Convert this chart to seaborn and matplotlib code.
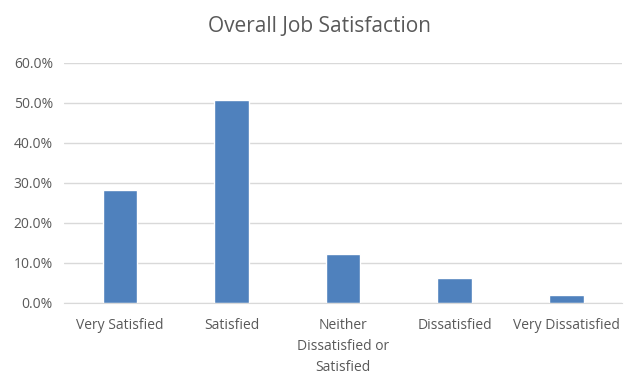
import matplotlib
matplotlib.use('Agg')
import matplotlib.pyplot as plt
import seaborn as sns
import pandas as pd
from matplotlib.ticker import PercentFormatter

# Chart data
categories = ['Very Satisfied', 'Satisfied', 'Neither\nDissatisfied or\nSatisfied',
              'Dissatisfied', 'Very Dissatisfied']
shares = [28.1, 50.8, 12.2, 6.3, 2.1]

df = pd.DataFrame({'Category': categories, 'Share': shares})

sns.set_style('white')
plt.rcParams['font.family'] = ['Open Sans', 'DejaVu Sans']

fig = plt.figure(figsize=(6.4, 3.83), dpi=100)
ax = fig.add_axes([0.100, 0.209, 0.872, 0.627])

sns.barplot(data=df, x='Category', y='Share', color='#4F81BD', saturation=1,
            width=0.31, ax=ax)

ax.set_ylim(0, 60)
ax.set_yticks(range(0, 61, 10))
ax.yaxis.set_major_formatter(PercentFormatter(decimals=1))
ax.yaxis.grid(True, color='#D9D9D9', linewidth=1)
ax.set_axisbelow(True)
ax.set_xlim(-0.5, 4.5)
for side in ['top', 'right', 'left']:
    ax.spines[side].set_visible(False)
ax.spines['bottom'].set_color('#D9D9D9')
ax.tick_params(axis='both', length=0, labelsize=10, colors='#595959', pad=8)
for lbl in ax.get_xticklabels():
    lbl.set_linespacing(1.55)
ax.tick_params(axis='x', pad=11)
ax.set_xlabel('')
ax.set_ylabel('')
fig.text(0.5, 0.93, 'Overall Job Satisfaction', ha='center', va='center',
         fontsize=15, color='#595959')

fig.savefig('out.png', dpi=100)
